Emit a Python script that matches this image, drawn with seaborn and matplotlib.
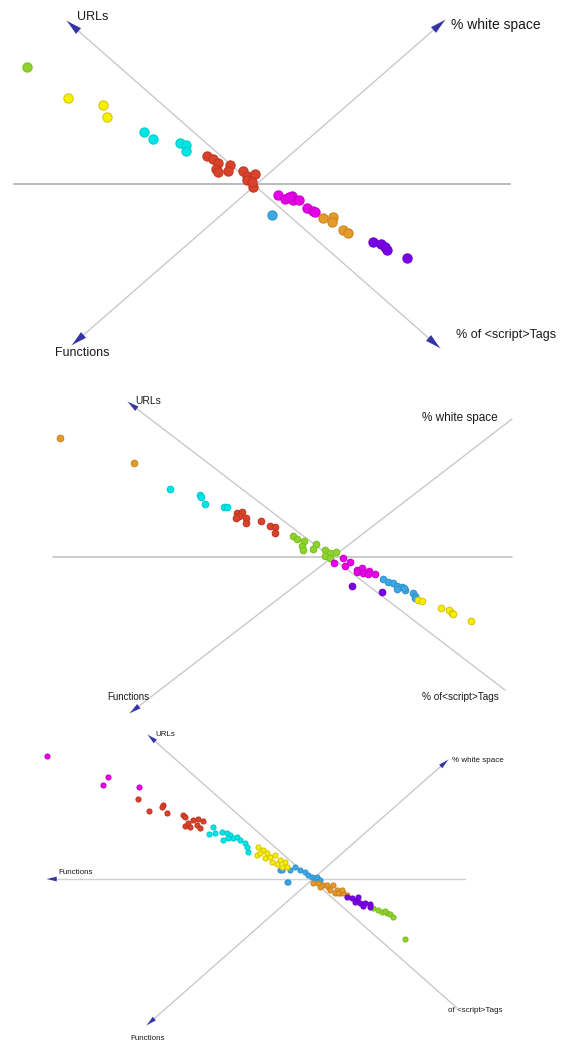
import numpy as np
import pandas as pd
import seaborn as sns
import matplotlib.pyplot as plt

# group colours (fill, edge)
colors = {
    "green": ("#8fd42c", "#7cbf22"),
    "yellow": ("#f2f200", "#e0c400"),
    "cyan": ("#00e6e6", "#00cccc"),
    "red": ("#d9432b", "#c23520"),
    "magenta": ("#e800e8", "#cc00cc"),
    "blue": ("#3ea8e3", "#2f95d0"),
    "orange": ("#e49b2b", "#cc8520"),
    "purple": ("#7a00e6", "#6a00cc"),
}

# panel 1 (top)
p1_x = [27, 68, 103, 107, 144, 153, 180, 186, 186,
        207, 213, 218, 216, 218, 230, 228, 243, 247, 255, 247, 253, 252,
        278, 285, 292, 293, 299, 307, 313, 315, 289,
        272, 323, 333, 332, 343, 348, 373, 381, 385, 387, 407]
p1_y = [67, 98, 105, 117, 132, 139, 143, 145, 151,
        156, 159, 163, 169, 172, 165, 171, 171, 176, 174, 180, 187, 182,
        195, 199, 196, 200, 200, 208, 211, 212, 197,
        215, 218, 217, 222, 230, 233, 242, 244, 247, 250, 258]
p1_group = (["green"] + ["yellow"] * 3 + ["cyan"] * 5 + ["red"] * 13
            + ["magenta"] * 9 + ["blue"] + ["orange"] * 5 + ["purple"] * 5)

# panel 2 (middle)
p2_x = [60, 134, 170, 200, 201, 205, 224, 227,
        237, 242, 239, 236, 246, 246, 261, 270, 275, 275,
        293, 297, 304, 302, 303, 316, 313, 325, 330, 336, 325, 330,
        343, 334, 350, 345, 357, 362, 357, 363, 369, 368, 375,
        352, 382,
        383, 388, 393, 397, 402, 397, 405, 404, 413, 415, 415,
        418, 422, 441, 449, 452, 453, 471]
p2_y = [438, 463, 489, 495, 497, 504, 507, 507,
        513, 512, 516, 518, 518, 523, 521, 526, 527, 533,
        536, 539, 541, 546, 550, 544, 549, 550, 553, 552, 556, 558,
        558, 563, 562, 566, 570, 568, 572, 573, 571, 574, 574,
        586, 592,
        579, 582, 583, 586, 587, 589, 590, 588, 593, 596, 598,
        600, 601, 608, 610, 613, 614, 621]
p2_group = (["orange"] * 2 + ["cyan"] * 6 + ["red"] * 10 + ["green"] * 12
            + ["magenta"] * 11 + ["purple"] * 2 + ["blue"] * 11 + ["yellow"] * 7)

# panel 3 (bottom)
p3_x = [47, 108, 103, 139,
        138, 163, 162, 149, 167, 183, 185, 193, 198, 203, 185, 190, 197, 200, 188,
        213, 209, 215, 222, 227, 230, 223, 233, 240, 245, 247, 248, 237, 228,
        258, 263, 257, 267, 270, 275, 272, 280, 277, 285, 282, 287, 265, 260,
        280, 287, 282, 288, 295, 300, 305, 308, 312, 315, 317, 320, 290,
        318, 323, 328, 333, 330, 337, 340, 335, 343, 347, 313, 320, 327, 338, 342,
        347, 352, 357, 360, 365, 370, 370, 363, 355, 358,
        373, 378, 382, 387, 390, 393, 385, 405]
p3_y = [756, 777, 785, 787,
        799, 805, 807, 811, 813, 815, 817, 820, 819, 821, 826, 827, 825, 828, 823,
        827, 834, 833, 832, 833, 835, 840, 838, 840, 843, 847, 852, 837, 838,
        847, 850, 855, 853, 857, 855, 862, 860, 864, 862, 867, 867, 858, 853,
        870, 882, 870, 882, 867, 870, 872, 875, 877, 879, 877, 880, 870,
        883, 885, 887, 885, 890, 890, 893, 893, 893, 895, 883, 887, 885, 893, 890,
        897, 898, 900, 903, 903, 904, 907, 906, 902, 897,
        908, 910, 912, 913, 914, 917, 911, 939]
p3_group = (["magenta"] * 4 + ["red"] * 15 + ["cyan"] * 14 + ["yellow"] * 14
            + ["blue"] * 13 + ["orange"] * 15 + ["purple"] * 10 + ["green"] * 8)

panels = [
    (p1_x, p1_y, p1_group, 44),
    (p2_x, p2_y, p2_group, 22),
    (p3_x, p3_y, p3_group, 13),
]

sns.set_theme(style="white")
plt.rcParams["font.family"] = ["Liberation Sans", "DejaVu Sans"]

fig = plt.figure(figsize=(5.63, 10.42), dpi=100)
ax = fig.add_axes([0, 0, 1, 1])
ax.set_xlim(0, 563)
ax.set_ylim(1042, 0)
ax.axis("off")

ARROW = "#3535a8"


def axis_line(a, b, color="#c9c9c9", lw=1.0):
    ax.plot([a[0], b[0]], [a[1], b[1]], color=color, lw=lw, zorder=1)


def arrow_head(tip, other, size=9):
    d = np.array(tip, float) - np.array(other, float)
    d /= np.linalg.norm(d)
    base = np.array(tip) - d * 10
    ax.annotate("", xy=tip, xytext=base,
                arrowprops=dict(arrowstyle="-|>,head_length=1.0,head_width=0.25",
                                color=ARROW, lw=0, shrinkA=0, shrinkB=0,
                                mutation_scale=size), zorder=3)


def label(x, y, s, size):
    ax.text(x, y, s, fontsize=size, color="#1a1a1a", ha="left", va="center", zorder=4)


# panel 1 axes
axis_line((14, 184), (510, 184), color="#b3b3b3", lw=1.3)
axis_line((67, 21), (440, 348))
axis_line((72, 345), (445, 20))
arrow_head((67, 21), (440, 348), 11)
arrow_head((440, 348), (67, 21), 11)
arrow_head((72, 345), (445, 20), 11)
arrow_head((445, 20), (72, 345), 11)
label(77, 17, "URLs", 9)
label(451, 25, "% white space", 10)
label(55, 353, "Functions", 9)
label(456, 335, "% of <script>Tags", 9)

# panel 2 axes
axis_line((53, 557), (512, 557), color="#c0c0c0", lw=1.1)
axis_line((128, 402), (505, 690))
axis_line((512, 419), (130, 713))
arrow_head((128, 402), (505, 690), 8)
arrow_head((130, 713), (512, 419), 8)
label(135, 401, "URLs", 7.4)
label(422, 418, "% white space", 8.5)
label(107, 697, "Functions", 7)
label(422, 697, "% of<script>Tags", 7.2)

# panel 3 axes
axis_line((47, 879), (465, 879), color="#d0d0d0", lw=1.0)
axis_line((148, 735), (457, 1008))
axis_line((448, 760), (147, 1025))
arrow_head((148, 735), (457, 1008), 7)
arrow_head((448, 760), (147, 1025), 7)
arrow_head((47, 879), (465, 879), 7)
arrow_head((147, 1025), (448, 760), 7)
label(155, 734, "URLs", 5.8)
label(452, 760, "% white space", 5.8)
label(58, 872, "Functions", 5.8)
label(130, 1038, "Functions", 5.8)
label(448, 1010, "of <script>Tags", 5.8)

for px, py, pg, size in panels:
    df = pd.DataFrame({"x": px, "y": py, "group": pg})
    for name, sub in df.groupby("group"):
        fill, edge = colors[name]
        sns.scatterplot(data=sub, x="x", y="y", color=fill, edgecolor=edge,
                        linewidth=0.8, s=size, ax=ax, zorder=2, legend=False)

ax.set_xlim(0, 563)
ax.set_ylim(1042, 0)
ax.axis("off")
fig.savefig("out.png", dpi=100, facecolor="white")
